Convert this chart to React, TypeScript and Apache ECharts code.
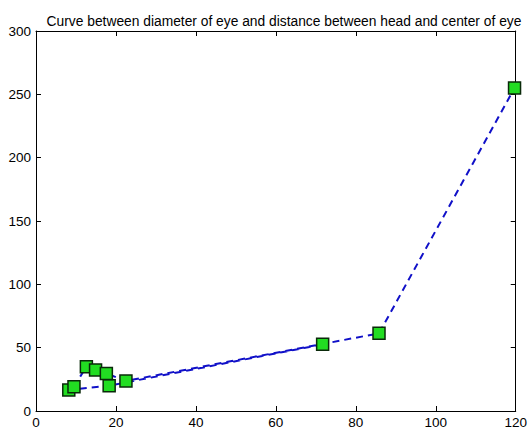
import React, { useEffect, useRef } from "react";
import * as echarts from "echarts";

const xValues = [71.7, 18.3, 8.2, 9.5, 12.6, 14.9, 17.6, 22.5, 85.8, 119.7];
const yValues = [52.6, 20.0, 16.6, 19.2, 35.0, 32.4, 29.7, 23.7, 61.3, 255.0];
const titleText = "Curve between diameter of eye and distance between head and center of eye";

export default function App() {
  const ref = useRef<HTMLDivElement>(null);
  useEffect(() => {
    const chart = echarts.init(ref.current!, null, { renderer: "svg" });
    const data = xValues.map((x, i) => [x, yValues[i]]);
    const font = "'Liberation Sans', Arial, sans-serif";
    const tickStyle = { inside: true, length: 5, lineStyle: { color: "#000", width: 1 } };
    const lineStyle = { onZero: false, lineStyle: { color: "#000", width: 1 } };
    chart.setOption({
      animation: false,
      backgroundColor: "#fff",
      title: {
        text: titleText,
        left: 279,
        textAlign: "center",
        top: 9,
        textStyle: { fontSize: 13.8, fontWeight: "normal", color: "#000", fontFamily: font },
      },
      grid: { left: 36, right: 11, top: 31, bottom: 21, containLabel: false },
      xAxis: [
        {
          type: "value", min: 0, max: 120, interval: 20, position: "bottom",
          axisLine: { show: true, ...lineStyle }, axisTick: { show: true, ...tickStyle },
          splitLine: { show: false },
          axisLabel: { fontSize: 13.5, color: "#000", fontFamily: font, margin: 4 },
        },
        {
          type: "value", min: 0, max: 120, interval: 20, position: "top",
          axisLine: { show: true, ...lineStyle }, axisTick: { show: true, ...tickStyle },
          splitLine: { show: false }, axisLabel: { show: false },
        },
      ],
      yAxis: [
        {
          type: "value", min: 0, max: 300, interval: 50, position: "left",
          axisLine: { show: true, ...lineStyle }, axisTick: { show: true, ...tickStyle },
          splitLine: { show: false },
          axisLabel: { fontSize: 13.5, color: "#000", fontFamily: font, margin: 5 },
        },
        {
          type: "value", min: 0, max: 300, interval: 50, position: "right",
          axisLine: { show: true, ...lineStyle }, axisTick: { show: true, ...tickStyle },
          splitLine: { show: false }, axisLabel: { show: false },
        },
      ],
      series: [
        {
          type: "line",
          data,
          xAxisIndex: 0,
          yAxisIndex: 0,
          symbol: "rect",
          symbolSize: 12,
          showAllSymbol: true,
          lineStyle: { color: "#1010c8", width: 2, type: [7, 5] },
          itemStyle: { color: "#22dd22", borderColor: "#0a2a0a", borderWidth: 1.5 },
          z: 3,
        },
      ],
    });
    return () => chart.dispose();
  }, []);
  return (
    <div
      ref={ref}
      style={{ position: "fixed", left: 0, top: 0, width: 530, height: 432 }}
    />
  );
}
